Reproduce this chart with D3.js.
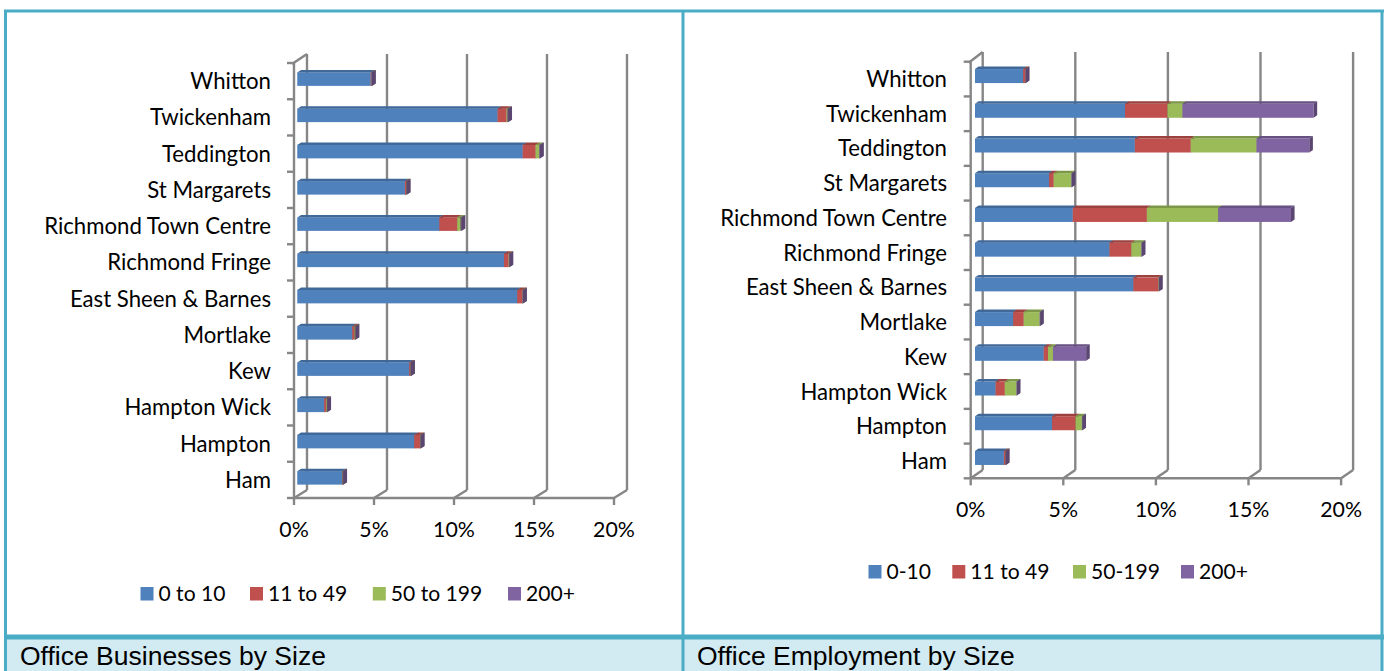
<!DOCTYPE html>
<html><head><meta charset="utf-8">
<script src="https://cdn.jsdelivr.net/npm/d3@7"></script>
<style>body{margin:0;background:#fff;}svg{display:block;}</style>
</head><body>
<svg id="c" width="1387" height="671"></svg>
<script>
// ---------- DATA ----------
const categories = ["Whitton","Twickenham","Teddington","St Margarets","Richmond Town Centre","Richmond Fringe","East Sheen & Barnes","Mortlake","Kew","Hampton Wick","Hampton","Ham"];
const tickValues = [0,5,10,15,20];
const tickLabels = ["0%","5%","10%","15%","20%"];

// Office Businesses by Size (% share)
const bizSeriesNames = ["0 to 10","11 to 49","50 to 199","200+"];
const biz_0to10   = [4.59,12.52,14.09,6.73,8.88,12.92,13.75,3.44,7.00,1.69,7.31,2.81];
const biz_11to49  = [0.03,0.56,0.81,0.07,1.12,0.29,0.31,0.14,0.08,0.11,0.36,0.03];
const biz_50to199 = [0.01,0.06,0.22,0.02,0.21,0.02,0.02,0.04,0.01,0.05,0.02,0.01];
const biz_200plus = [0.04,0.04,0.05,0.02,0.05,0.03,0.03,0.02,0.02,0.02,0.03,0.02];

// Office Employment by Size (% share)
const empSeriesNames = ["0-10","11 to 49","50-199","200+"];
const emp_0to10   = [2.60,8.10,8.63,4.00,5.28,7.26,8.55,2.06,3.71,1.11,4.16,1.56];
const emp_11to49  = [0.12,2.29,3.02,0.25,4.00,1.18,1.35,0.57,0.23,0.50,1.27,0.09];
const emp_50to199 = [0.00,0.81,3.55,0.95,3.85,0.54,0.02,0.86,0.27,0.63,0.34,0.00];
const emp_200plus = [0.03,7.08,2.85,0.03,3.93,0.03,0.02,0.03,1.79,0.02,0.03,0.02];

const captions = ["Office Businesses by Size","Office Employment by Size"];
const seriesColors = ["#4F81BD","#C0504D","#9BBB59","#8064A2"];

// ---------- DRAW ----------
const svg = d3.select("#c");
const TEAL = "#4BACC6";
const GRID = "#868686";
const GW = 2.4;
const FONT = "Lato, 'Open Sans', sans-serif";

function measure(txt, family, size){
  const t = svg.append("text").attr("font-family",family).attr("font-size",size).text(txt);
  const w = t.node().getComputedTextLength(); t.remove(); return w;
}
const fs = 100 * 227 / measure("Richmond Town Centre", FONT, 100);
const tickFs = fs * 0.96;
const legFs = fs * 0.95;
const capFs = 100 * 306 / measure("Office Businesses by Size", "'Liberation Sans', Arial, sans-serif", 100);

svg.append("rect").attr("x",0).attr("y",0).attr("width",1387).attr("height",671).attr("fill","#fff");
svg.append("rect").attr("x",5).attr("y",639).attr("width",1378).attr("height",40).attr("fill","#D2EAF1");

function chart(cfg){
  const g = svg.append("g");
  const x = d3.scaleLinear().domain([0,20]).range([cfg.x0, cfg.x0 + cfg.kx*20]);
  const y = d3.scaleBand().domain(categories).range([cfg.yTop, cfg.yBot]);
  const DX = cfg.dx, DY = cfg.dy;

  tickValues.forEach(v=>{
    const xf = x(v);
    g.append("line").attr("x1",xf+DX).attr("x2",xf+DX).attr("y1",cfg.backTop).attr("y2",cfg.yBot+DY)
      .attr("stroke",GRID).attr("stroke-width",GW);
    g.append("line").attr("x1",xf).attr("x2",xf+DX).attr("y1",cfg.yBot).attr("y2",cfg.yBot+DY)
      .attr("stroke",GRID).attr("stroke-width",GW);
    g.append("line").attr("x1",xf).attr("x2",xf).attr("y1",cfg.yBot).attr("y2",cfg.yBot+7)
      .attr("stroke",GRID).attr("stroke-width",GW);
  });
  g.append("line").attr("x1",x(0)).attr("x2",x(20)).attr("y1",cfg.yBot).attr("y2",cfg.yBot).attr("stroke",GRID).attr("stroke-width",GW);
  g.append("line").attr("x1",x(0)).attr("x2",x(0)).attr("y1",cfg.yTop).attr("y2",cfg.yBot).attr("stroke",GRID).attr("stroke-width",GW);
  g.append("line").attr("x1",x(0)-2).attr("x2",x(0)+DX).attr("y1",cfg.yTop+1).attr("y2",cfg.backTop).attr("stroke",GRID).attr("stroke-width",GW);
  const bounds = categories.map(c=>y(c)).concat([cfg.yBot]);
  bounds.forEach(b=>{
    g.append("line").attr("x1",x(0)-7).attr("x2",x(0)).attr("y1",b).attr("y2",b).attr("stroke",GRID).attr("stroke-width",GW);
  });

  const d0 = cfg.d0, d1 = cfg.d1;
  const h = cfg.barH;
  const stack = d3.stack().keys([0,1,2,3]).value((d,k)=>d.vals[k]);
  const rows = categories.map((c,i)=>({cat:c, vals:cfg.series.map(s=>s[i])}));
  const layers = stack(rows);
  rows.forEach((r,i)=>{
    const cy = y(r.cat) + y.bandwidth()/2;
    const top = cy - h/2 + DY*d0, bot = top + h;
    const ox = DX*d0;
    const ddx = DX*(d1-d0), ddy = DY*(d1-d0);
    layers.forEach((L,k)=>{
      const a = x(L[i][0]) + ox, b = x(L[i][1]) + ox;
      const col = d3.color(seriesColors[k]);
      g.append("rect").attr("x",a).attr("y",top).attr("width",Math.max(0,b-a)).attr("height",h).attr("fill",seriesColors[k]);
      g.append("path").attr("d",`M${a},${top}L${a+ddx},${top+ddy}L${b+ddx},${top+ddy}L${b},${top}Z`)
        .attr("fill",col.darker(0.6));
      g.append("path").attr("d",`M${b},${top}L${b+ddx},${top+ddy}L${b+ddx},${bot+ddy}L${b},${bot}Z`)
        .attr("fill",col.darker(1.0));
    });
  });

  categories.forEach(c=>{
    g.append("text").attr("x",cfg.labelX).attr("y",y(c)+y.bandwidth()/2 + fs*0.36)
      .attr("text-anchor","end").attr("font-family",FONT).attr("font-size",fs).attr("fill","#000").text(c);
  });
  tickValues.forEach((v,i)=>{
    g.append("text").attr("x",x(v)).attr("y",cfg.tickY).attr("text-anchor","middle")
      .attr("font-family",FONT).attr("font-size",tickFs).attr("fill","#000").text(tickLabels[i]);
  });
  cfg.names.forEach((n,k)=>{
    const lx = cfg.legendX[k];
    g.append("rect").attr("x",lx).attr("y",cfg.legendY-13.5).attr("width",13).attr("height",13.5).attr("fill",seriesColors[k]);
    g.append("text").attr("x",lx+18).attr("y",cfg.legendY).attr("font-family",FONT).attr("font-size",legFs).attr("fill","#000").text(n);
  });
  g.append("text").attr("x",cfg.capX).attr("y",665).attr("font-family","'Liberation Sans', Arial, sans-serif")
    .attr("font-size",capFs).attr("fill","#000").text(cfg.caption);
}

chart({x0:294, kx:16, yTop:63, yBot:498, dx:13, dy:-8, backTop:54, d0:0.25, d1:0.55, barH:13.5,
  series:[biz_0to10,biz_11to49,biz_50to199,biz_200plus], names:bizSeriesNames,
  labelX:271, tickY:537, legendX:[140.5,250,372.8,508], legendY:600.5, capX:20, caption:captions[0]});
chart({x0:970.7, kx:18.52, yTop:61.7, yBot:478.3, dx:12, dy:-8.3, backTop:52, d0:0.36, d1:0.66, barH:14,
  series:[emp_0to10,emp_11to49,emp_50to199,emp_200plus], names:empSeriesNames,
  labelX:947, tickY:517, legendX:[868.5,952.3,1073,1181], legendY:578.5, capX:697, caption:captions[1]});

const bw = 3;
svg.append("line").attr("x1",4).attr("x2",1384).attr("y1",11).attr("y2",11).attr("stroke",TEAL).attr("stroke-width",bw);
svg.append("line").attr("x1",5.5).attr("x2",5.5).attr("y1",10).attr("y2",671).attr("stroke",TEAL).attr("stroke-width",bw);
svg.append("line").attr("x1",683).attr("x2",683).attr("y1",10).attr("y2",671).attr("stroke",TEAL).attr("stroke-width",bw);
svg.append("line").attr("x1",1382).attr("x2",1382).attr("y1",10).attr("y2",671).attr("stroke",TEAL).attr("stroke-width",bw);
svg.append("line").attr("x1",4).attr("x2",1384).attr("y1",637).attr("y2",637).attr("stroke",TEAL).attr("stroke-width",5);
</script>
</body></html>
